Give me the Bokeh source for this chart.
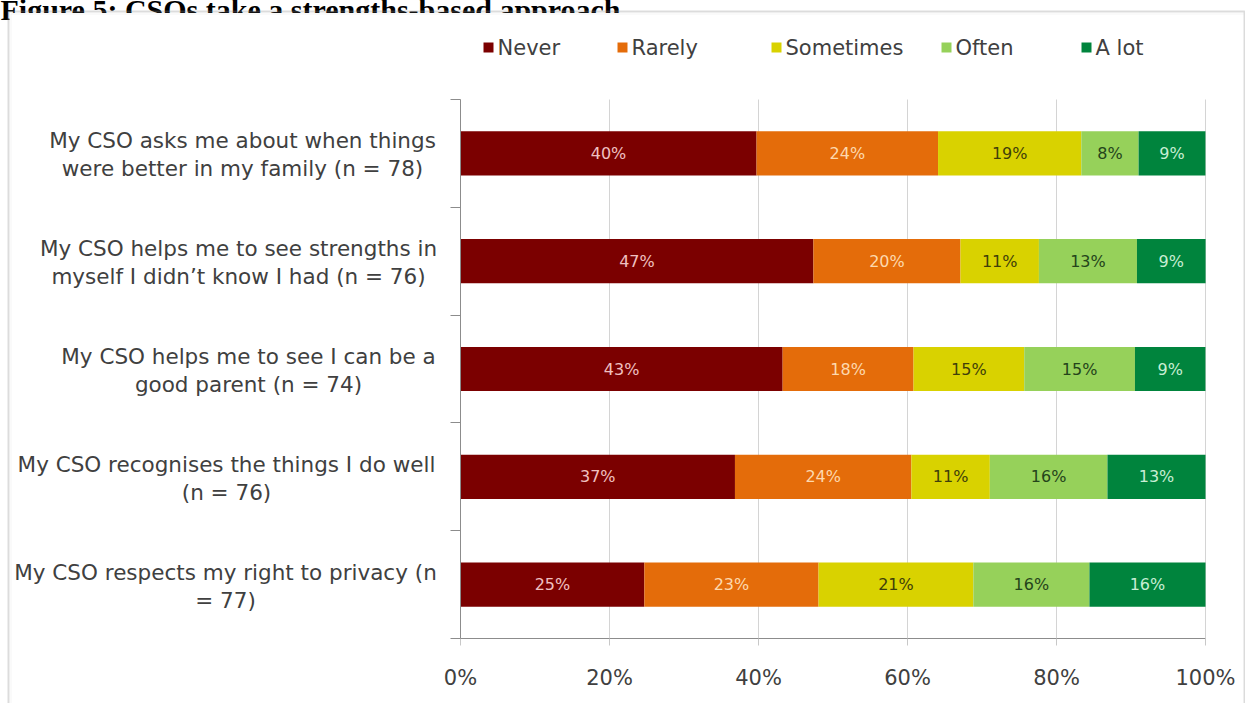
from bokeh.plotting import figure
from bokeh.models import (Range1d, FixedTicker, Label, BoxAnnotation, ColumnDataSource,
                          LinearAxis, Grid)
from bokeh.embed import file_html
from bokeh.resources import INLINE
from bokeh.core.properties import value

# ---------------- data ----------------
title_text = "Figure 5: CSOs take a strengths-based approach"
categories = [
    "My CSO asks me about when things\nwere better in my family (n = 78)",
    "My CSO helps me to see strengths in\nmyself I didn\u2019t know I had (n = 76)",
    "My CSO helps me to see I can be a\ngood parent (n = 74)",
    "My CSO recognises the things I do well\n(n = 76)",
    "My CSO respects my right to privacy (n\n= 77)",
]
series = ["Never", "Rarely", "Sometimes", "Often", "A lot"]
never = [39.74, 47.37, 43.24, 36.84, 24.68]
rarely = [24.36, 19.74, 17.57, 23.68, 23.38]
sometimes = [19.23, 10.53, 14.86, 10.53, 20.78]
often = [7.69, 13.16, 14.86, 15.79, 15.58]
a_lot = [8.97, 9.21, 9.46, 13.16, 15.58]
tick_values = [0, 20, 40, 60, 80, 100]
tick_labels = ["0%", "20%", "40%", "60%", "80%", "100%"]

# ---------------- style / layout ----------------
colors = ["#7B0000", "#E46C0A", "#D9D200", "#96D15A", "#00843D"]
label_colors = ["#F0C0C0", "#FDD9AE", "#3F3F0A", "#24441A", "#C8EED4"]
FONT = "DejaVu Sans"
TXT = "#404040"
W, H = 1253, 711
OFF = 8                      # canvas origin sits at page (-8, -8)
PX0, PX100 = 460, 1205       # page x of 0% and 100%
PY0, PY5 = 99, 638           # page y of top and bottom of category bands
NCAT = len(categories)
xs = (PX100 - PX0) / 100.0
ys = (PY5 - PY0) / NCAT


def sx(px):
    return px + OFF


def sy(py):
    return H - (py + OFF)


def dx(px):
    return (px - PX0) / xs


def screen_box(l, r, t, b, **kw):
    return BoxAnnotation(left=sx(l), right=sx(r), top=sy(t), bottom=sy(b),
                         left_units="screen", right_units="screen",
                         top_units="screen", bottom_units="screen", **kw)


values = [never, rarely, sometimes, often, a_lot]
ypos = [i + 0.5 for i in range(NCAT)]
data = {"y": ypos}
for s, v in zip(series, values):
    data[s] = v
source = ColumnDataSource(data)

x_range = Range1d(dx(-OFF), dx(W - OFF))
y_range = Range1d((H - OFF - PY0) / ys, (-OFF - PY0) / ys)

p = figure(width=W, height=H, output_backend="svg", toolbar_location=None,
           x_range=x_range, y_range=y_range, x_axis_location=None, y_axis_location=None,
           min_border=0)
p.styles = {"margin-top": "-8px", "margin-left": "-8px"}
p.outline_line_color = None
p.background_fill_color = "white"
p.border_fill_color = "white"
p.grid.visible = False

# vertical gridlines limited to the plot area
p.add_layout(Grid(dimension=0, ticker=FixedTicker(ticks=tick_values), bounds=(0, 100),
                  cross_bounds=(0, NCAT), grid_line_color="#D4D4D4"))

# x axis
xaxis = LinearAxis(fixed_location=NCAT, bounds=(0, 100), ticker=FixedTicker(ticks=tick_values),
                   major_label_overrides={v: l for v, l in zip(tick_values, tick_labels)},
                   major_tick_in=0, major_tick_out=7, minor_tick_line_color=None,
                   major_tick_line_color="#C8C8C8", axis_line_color="#8C8C8C",
                   major_label_text_font=FONT, major_label_text_font_size="21px",
                   major_label_text_color=TXT, major_label_standoff=20)
p.add_layout(xaxis, "below")

# y axis
yaxis = LinearAxis(fixed_location=0, bounds=(0, NCAT),
                   ticker=FixedTicker(ticks=list(range(NCAT + 1))),
                   major_label_overrides={i: "" for i in range(NCAT + 1)},
                   major_tick_in=0, major_tick_out=10, minor_tick_line_color=None,
                   major_tick_line_color="#8C8C8C", axis_line_color="#8C8C8C")
p.add_layout(yaxis, "left")

p.hbar_stack(series, y="y", height=0.41, color=colors, line_width=0, source=source)

# bar labels
lx, ly, lt, lc = [], [], [], []
for i in range(NCAT):
    left = 0.0
    for k, v in enumerate(values):
        val = v[i]
        lx.append(left + val / 2)
        ly.append(ypos[i])
        lt.append(f"{int(val + 0.5)}%")
        lc.append(label_colors[k])
        left += val
p.text(x="x", y="y", text="t", text_color="c",
       source=ColumnDataSource(dict(x=lx, y=ly, t=lt, c=lc)),
       text_align="center", text_baseline="middle",
       text_font=value(FONT), text_font_size="16px")

# category labels
centers = [242, 238, 248, 226, 225]
p.text(x=[dx(c) for c in centers], y=ypos, text=categories,
       text_align="center", text_baseline="middle", text_line_height=1.12,
       text_font=value(FONT), text_font_size="21.5px", text_color=TXT, y_offset=1.5)

# title (cut by the top of the window, as in the source document)
p.add_layout(Label(x=sx(0), y=sy(9), x_units="screen", y_units="screen",
                   text=title_text, text_font="Liberation Serif",
                   text_font_style="bold", text_font_size="30px",
                   text_color="black", text_baseline="alphabetic"))
# chart box covers the title descenders
p.add_layout(screen_box(9, 760, 12.5, 26, fill_color="white", fill_alpha=1,
                        line_color=None, level="overlay"))

# outer chart frame with a soft inner shade
p.add_layout(screen_box(8, 1244, 11, 730, fill_alpha=0, line_color="#8A8A8A", line_width=2,
                        level="overlay"))
p.add_layout(screen_box(10.5, 1244, 13.5, 730, fill_alpha=0, line_color="#DCDCDC",
                        line_width=1, level="overlay"))

# legend
leg_x = [483, 617, 771, 941, 1081]
for k, s in enumerate(series):
    x0 = leg_x[k]
    p.add_layout(screen_box(x0, x0 + 10, 42, 52, fill_color=colors[k], fill_alpha=1,
                            line_color=None))
    p.add_layout(Label(x=sx(x0 + 14), y=sy(47), x_units="screen", y_units="screen",
                       text=s, text_align="left", text_baseline="middle",
                       text_font=FONT, text_font_size="21px", text_color=TXT))

open("out.html", "w").write(file_html(p, INLINE))
